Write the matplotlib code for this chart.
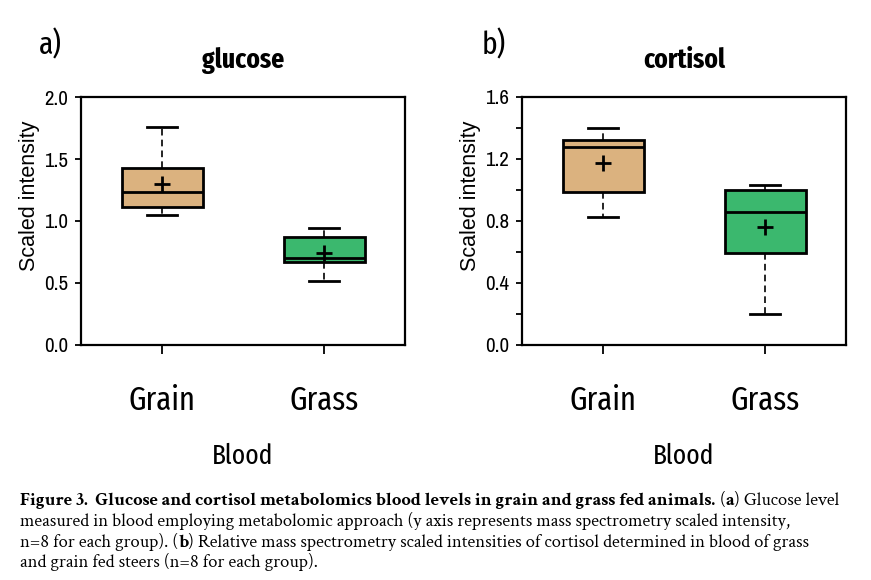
import matplotlib
matplotlib.use('Agg')
import matplotlib.pyplot as plt

# fonts: narrow grotesque for numbers, condensed humanist for labels, serif caption
tick_font = ['Archivo Narrow', 'Liberation Sans', 'DejaVu Sans']
label_font = ['Fira Sans Extra Condensed', 'Carlito', 'DejaVu Sans']
ylab_font = ['Liberation Sans', 'DejaVu Sans']
serif = ['Crimson Text', 'Liberation Serif', 'DejaVu Serif']

groups = ['Grain', 'Grass']
box_colors = ['#DBB27F', '#3BB86E']

# glucose (panel a), values
glucose_whislo = [1.05, 0.52]
glucose_q1 = [1.115, 0.667]
glucose_med = [1.236, 0.704]
glucose_q3 = [1.425, 0.869]
glucose_whishi = [1.76, 0.941]
glucose_mean = [1.298, 0.744]

# cortisol (panel b)
cortisol_whislo = [0.824, 0.20]
cortisol_q1 = [0.985, 0.592]
cortisol_med = [1.277, 0.856]
cortisol_q3 = [1.323, 0.998]
cortisol_whishi = [1.398, 1.032]
cortisol_mean = [1.172, 0.763]

glucose_ticks = [0.0, 0.5, 1.0, 1.5, 2.0]
cortisol_ticks = [0.0, 0.4, 0.8, 1.2, 1.6]
cortisol_minor = [0.2, 0.6, 1.0, 1.4]

fig = plt.figure(figsize=(8.71, 5.8), dpi=100)
W, H = 871.0, 580.0


def panel(rect, whislo, q1, med, q3, whishi, mean, title, ticks, minor, letter, letter_x):
    ax = fig.add_axes(rect)
    stats = []
    for i in range(len(groups)):
        stats.append(dict(label=groups[i], whislo=whislo[i], q1=q1[i], med=med[i],
                          q3=q3[i], whishi=whishi[i], mean=mean[i], fliers=[]))
    bp = ax.bxp(stats, positions=[1, 2], widths=0.5, capwidths=0.19,
                showmeans=True, patch_artist=True,
                boxprops=dict(edgecolor='black', linewidth=2),
                whiskerprops=dict(color='black', linewidth=1.2, linestyle=(0, (4, 2.5))),
                capprops=dict(color='black', linewidth=2),
                medianprops=dict(color='black', linewidth=2),
                meanprops=dict(marker='+', markeredgecolor='black',
                               markersize=11, markeredgewidth=2))
    for patch, c in zip(bp['boxes'], box_colors):
        patch.set_facecolor(c)

    ax.set_xlim(0.5, 2.5)
    ax.set_ylim(ticks[0], ticks[-1])
    ax.set_yticks(ticks)
    ax.set_yticklabels(['%.1f' % t for t in ticks], family=tick_font, fontsize=15)
    if minor:
        ax.set_yticks(minor, minor=True)
    ax.set_xticks([1, 2])
    ax.set_xticklabels(groups, family=label_font, fontsize=24)
    for s in ax.spines.values():
        s.set_linewidth(1.6)
    ax.tick_params(axis='y', which='both', direction='out', length=4.5, width=1.3, pad=5)
    ax.tick_params(axis='x', direction='out', length=6.5, width=1.3, pad=22)

    ax.set_ylabel('Scaled intensity', family=ylab_font, fontsize=15.5)
    ax.yaxis.set_label_coords(-0.128, 0.60)
    ax.set_xlabel('Blood', family=label_font, fontsize=20, labelpad=19)
    ax.set_title(title, family=label_font, fontsize=20, fontweight='bold', pad=21)
    fig.text(letter_x / W, 1 - 45 / H, letter, family=label_font, fontsize=23,
             ha='center', va='center')
    return ax


axw = 324 / W
axb = (H - 345) / H
axh = 248 / H

panel([81 / W, axb, axw, axh], glucose_whislo, glucose_q1, glucose_med, glucose_q3,
      glucose_whishi, glucose_mean, 'glucose', glucose_ticks, None, 'a)', 50)
panel([522 / W, axb, axw, axh], cortisol_whislo, cortisol_q1, cortisol_med, cortisol_q3,
      cortisol_whishi, cortisol_mean, 'cortisol', cortisol_ticks, cortisol_minor, 'b)', 494)

# caption, written piece by piece so bold and normal runs share a line
caption = [
    [('Figure 3.  Glucose and cortisol metabolomics blood levels in grain and grass fed animals.', 'bold', False),
     ('(', 'normal', True), ('a', 'bold', False), (') Glucose level', 'normal', False)],
    [('measured in blood employing metabolomic approach (y axis represents mass spectrometry scaled intensity,', 'normal', False)],
    [('n=8 for each group). (', 'normal', False), ('b', 'bold', False),
     (') Relative mass spectrometry scaled intensities of cortisol determined in blood of grass', 'normal', False)],
    [('and grain fed steers (n=8 for each group).', 'normal', False)],
]
cap_y = [505, 526, 547, 567]
cap_ends = [841, 790, 848]
renderer = fig.canvas.get_renderer()


def write_caption(size, draw):
    probe = fig.text(0, 0, 'x x', family=serif, fontsize=size)
    w2 = probe.get_window_extent(renderer).width
    probe.set_text('xx')
    space_w = w2 - probe.get_window_extent(renderer).width
    probe.remove()
    ends = []
    for line, yy in zip(caption, cap_y):
        x = 20.0
        for text, weight, gap in line:
            if gap:
                x += space_w
            t = fig.text(x / W, 1 - yy / H, text, family=serif, fontsize=size,
                         fontweight=weight, ha='left', va='baseline')
            x += t.get_window_extent(renderer).width
            if not draw:
                t.remove()
        ends.append(x)
    return ends


# size the caption so no line runs past where it ends in the figure
base = 12.0
ends = write_caption(base, False)
scale = min((cap_ends[i] - 20) / (ends[i] - 20) for i in range(3))
write_caption(base * scale, True)

fig.savefig('out.png', dpi=100)
